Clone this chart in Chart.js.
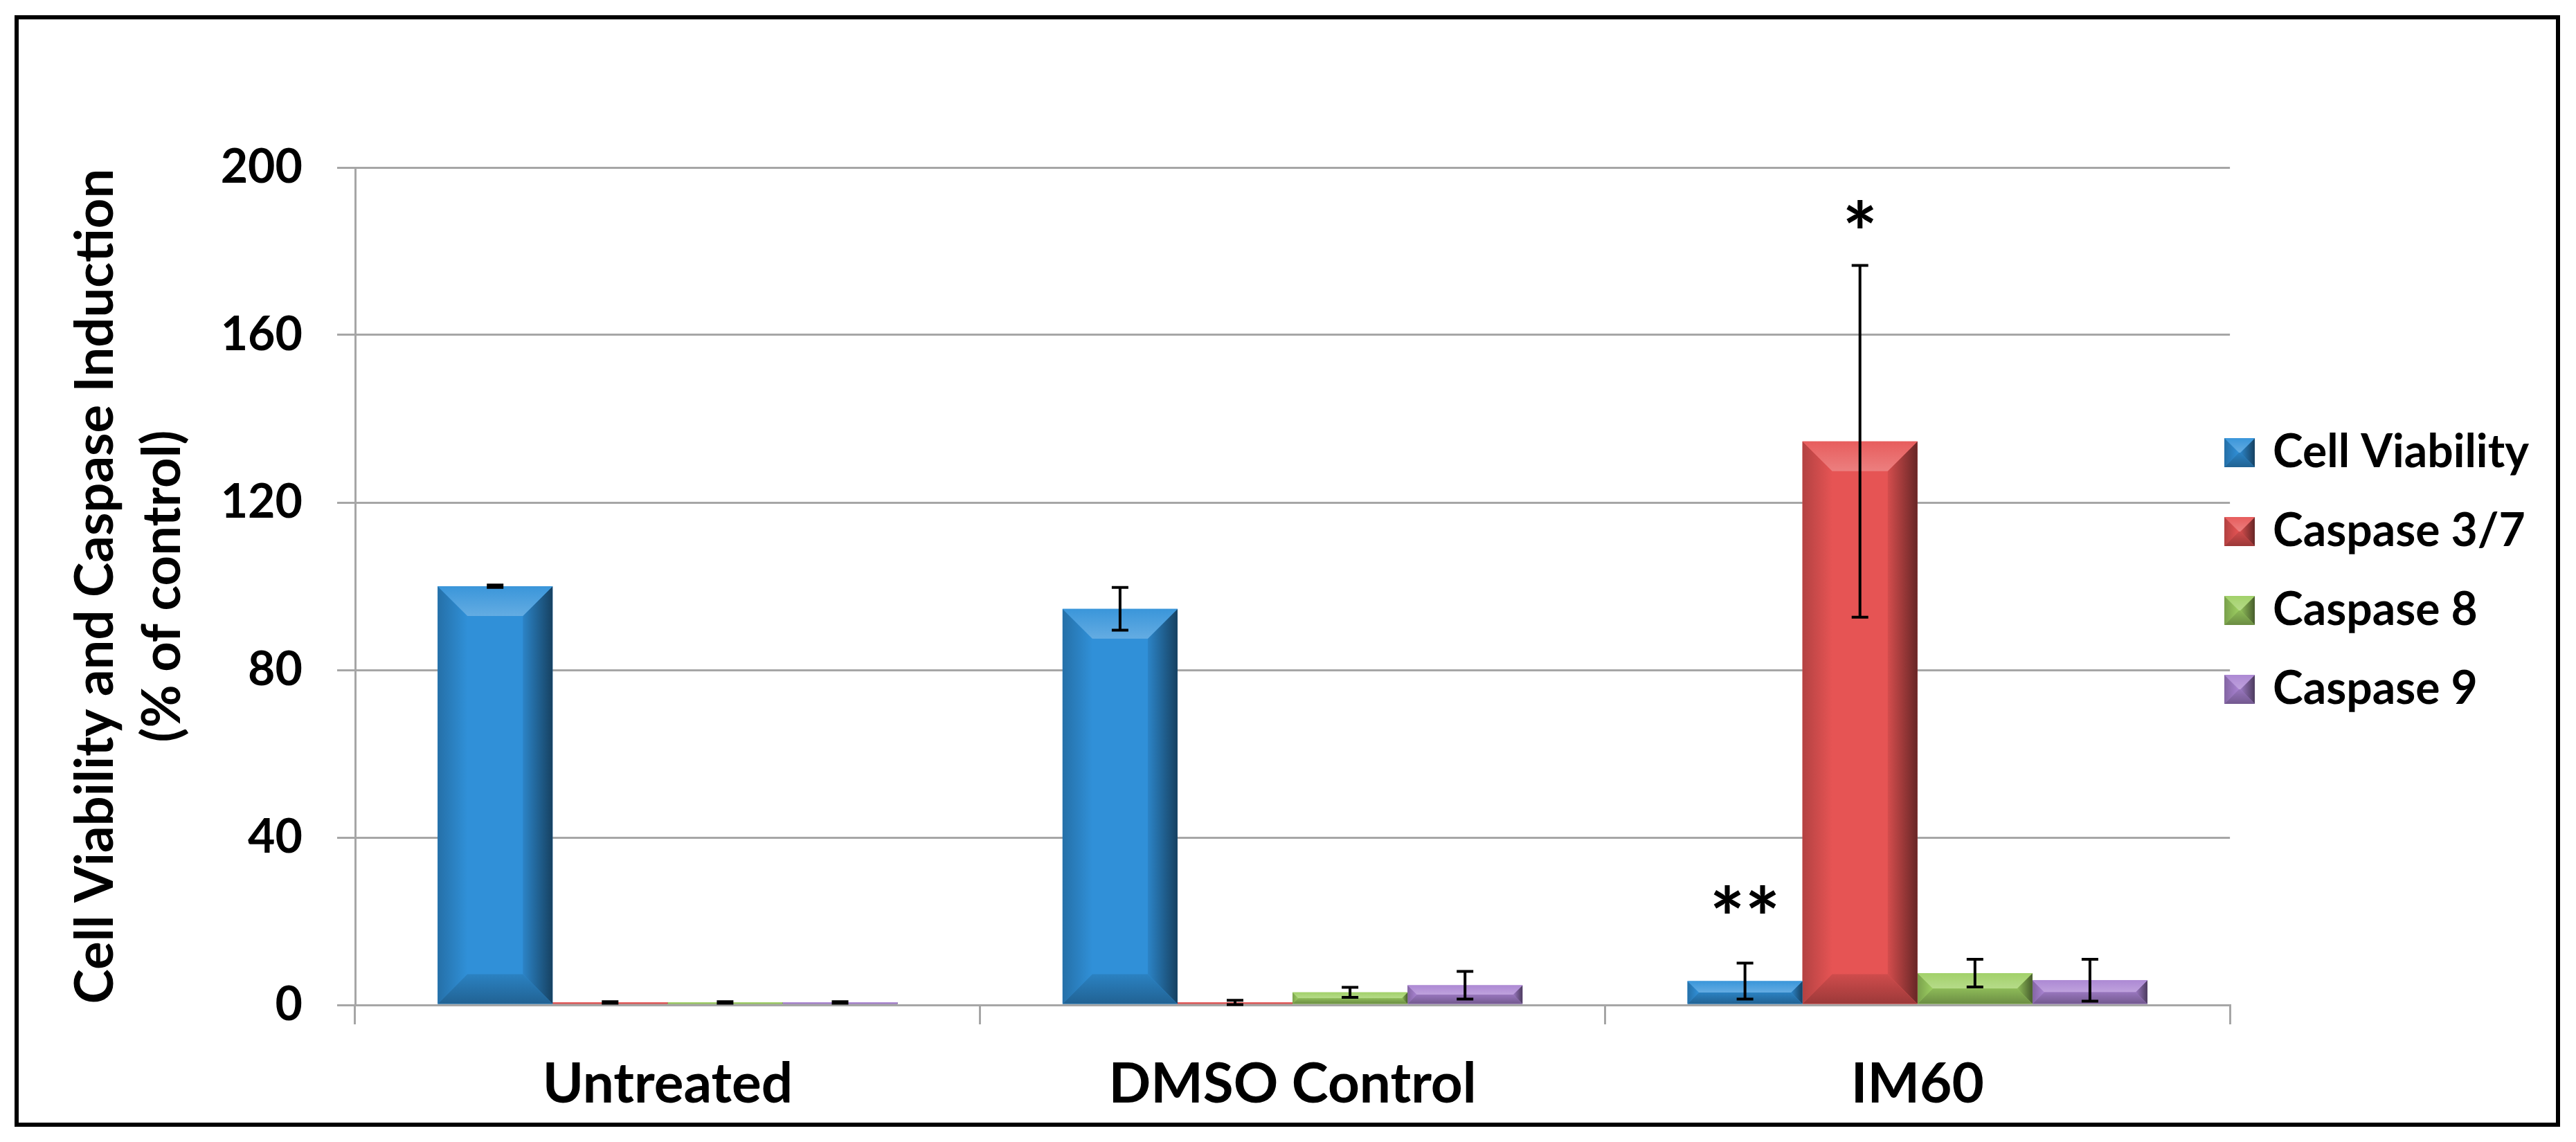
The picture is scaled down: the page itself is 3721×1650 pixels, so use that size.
<!DOCTYPE html>
<html lang="en">
<head>
    <meta charset="UTF-8">
    <title>Cell Viability and Caspase Induction</title>
    <script src="https://cdn.jsdelivr.net/npm/chart.js@4.4.1/dist/chart.umd.min.js"></script>
    <style>
        html, body { margin: 0; padding: 0; background: #fff; }
        #wrap { position: absolute; left: 0; top: 0; width: 3721px; height: 1650px; }
        #frame {
            position: absolute; left: 21px; top: 22px; width: 3677px; height: 1606px;
            border: 6px solid #000; box-sizing: border-box; pointer-events: none;
        }
    </style>
</head>
<body>
    <div id="wrap"><canvas id="grafico"></canvas></div>
    <div id="frame"></div>

    <script>
        // Datos
        const categorias = ['Untreated', 'DMSO Control', 'IM60'];
        const series = ['Cell Viability', 'Caspase 3/7', 'Caspase 8', 'Caspase 9'];

        const cellViability    = [100, 94.6, 5.7];
        const cellViabilityErr = [0.3, 5.1, 4.3];
        const caspase37        = [0.6, 0.6, 134.6];
        const caspase37Err     = [0.2, 0.5, 42];
        const caspase8         = [0.6, 3.0, 7.6];
        const caspase8Err      = [0.2, 1.2, 3.3];
        const caspase9         = [0.6, 4.7, 5.9];
        const caspase9Err      = [0.2, 3.3, 5.0];

        const yMin = 0, yMax = 200, yStep = 40;

        // marcas de significancia: serie, categoria, texto
        const sigSerie = [1, 0];
        const sigCategoria = [2, 2];
        const sigTexto = ['*', '**'];

        // estilos
        const colores = ['#3090D8', '#E65454', '#9DCF62', '#A983D2'];
        const sigLift = [70, 88];
        const valores = [cellViability, caspase37, caspase8, caspase9];
        const errores = [cellViabilityErr, caspase37Err, caspase8Err, caspase9Err];

        function shade(hex, f) {
            const n = parseInt(hex.slice(1), 16);
            let r = (n >> 16) & 255, g = (n >> 8) & 255, b = n & 255;
            const t = f < 0 ? 0 : 255, p = Math.abs(f);
            r = Math.round(r + (t - r) * p);
            g = Math.round(g + (t - g) * p);
            b = Math.round(b + (t - b) * p);
            return `rgb(${r},${g},${b})`;
        }

        function poly(ctx, pts, fill) {
            ctx.beginPath();
            ctx.moveTo(pts[0][0], pts[0][1]);
            for (let i = 1; i < pts.length; i++) ctx.lineTo(pts[i][0], pts[i][1]);
            ctx.closePath();
            ctx.fillStyle = fill;
            ctx.fill();
        }

        // bisel tipo Excel sobre un rectangulo
        function bisel(ctx, L, T, w, h, color, size) {
            if (w <= 0 || h <= 0) return;
            const R = L + w, B = T + h;
            const b = Math.min(size, w / 2, h / 2);
            let g;
            g = ctx.createLinearGradient(L, 0, L + b, 0);
            g.addColorStop(0, shade(color, -0.22));
            g.addColorStop(1, shade(color, 0));
            poly(ctx, [[L, T], [L + b, T + b], [L + b, B - b], [L, B]], g);
            g = ctx.createLinearGradient(R - b, 0, R, 0);
            g.addColorStop(0, shade(color, -0.08));
            g.addColorStop(1, shade(color, -0.55));
            poly(ctx, [[R, T], [R - b, T + b], [R - b, B - b], [R, B]], g);
            g = ctx.createLinearGradient(0, T, 0, T + b);
            g.addColorStop(0, shade(color, 0.05));
            g.addColorStop(1, shade(color, 0.25));
            poly(ctx, [[L, T], [R, T], [R - b, T + b], [L + b, T + b]], g);
            g = ctx.createLinearGradient(0, B - b, 0, B);
            g.addColorStop(0, shade(color, -0.1));
            g.addColorStop(1, shade(color, -0.32));
            poly(ctx, [[L, B], [R, B], [R - b, B - b], [L + b, B - b]], g);
        }

        // muestras de la leyenda
        const muestras = colores.map(c => {
            const cv = document.createElement('canvas');
            cv.width = 44; cv.height = 42;
            const cx = cv.getContext('2d');
            cx.fillStyle = c;
            cx.fillRect(0, 0, 44, 42);
            bisel(cx, 0, 0, 44, 42, c, 22);
            return cv;
        });

        const biselPlugin = {
            id: 'biselBarras',
            afterDatasetDraw(chart, args) {
                const ctx = chart.ctx;
                const color = colores[args.index];
                ctx.save();
                args.meta.data.forEach(bar => {
                    const p = bar.getProps(['x', 'y', 'base', 'width'], true);
                    const top = Math.min(p.y, p.base);
                    bisel(ctx, p.x - p.width / 2, top, p.width, Math.abs(p.base - p.y), color, 43);
                });
                ctx.restore();
            }
        };

        const erroresPlugin = {
            id: 'barrasError',
            afterDatasetsDraw(chart) {
                const ctx = chart.ctx;
                const y = chart.scales.y;
                ctx.save();
                ctx.strokeStyle = '#000';
                ctx.lineWidth = 4;
                errores.forEach((errs, i) => {
                    const meta = chart.getDatasetMeta(i);
                    errs.forEach((e, j) => {
                        const x = meta.data[j].x;
                        const v = valores[i][j];
                        const y1 = y.getPixelForValue(v + e);
                        const y2 = y.getPixelForValue(Math.max(v - e, 0));
                        ctx.beginPath();
                        ctx.moveTo(x, y1); ctx.lineTo(x, y2);
                        ctx.moveTo(x - 12, y1); ctx.lineTo(x + 12, y1);
                        ctx.moveTo(x - 12, y2); ctx.lineTo(x + 12, y2);
                        ctx.stroke();
                    });
                });
                // asteriscos
                ctx.fillStyle = '#000';
                ctx.font = 'bold 120px Lato';
                ctx.textAlign = 'center';
                ctx.textBaseline = 'alphabetic';
                sigTexto.forEach((t, k) => {
                    const i = sigSerie[k], j = sigCategoria[k];
                    const x = chart.getDatasetMeta(i).data[j].x;
                    const top = y.getPixelForValue(valores[i][j] + errores[i][j]);
                    const cy = top - sigLift[k];
                    ctx.fillText(t, x, cy + 67);
                });
                ctx.restore();
            }
        };

        // mueve la leyenda para que quede pegada al area del grafico
        const leyendaPlugin = {
            id: 'posLeyenda',
            afterLayout(chart) {
                const lg = chart.legend;
                const w = lg.width;
                lg.left = chart.chartArea.right - 49;
                lg.right = lg.left + w;
                lg.top = 0;
                lg.bottom = chart.height;
            }
        };

        Chart.defaults.font.family = 'Lato';
        Chart.defaults.font.weight = 'bold';
        Chart.defaults.color = '#000';

        new Chart(document.getElementById('grafico'), {
            type: 'bar',
            data: {
                labels: categorias,
                datasets: series.map((s, i) => ({
                    label: s,
                    data: valores[i],
                    backgroundColor: colores[i],
                    borderWidth: 0,
                    barPercentage: 1,
                    categoryPercentage: 0.736
                }))
            },
            options: {
                responsive: true,
                maintainAspectRatio: false,
                devicePixelRatio: 1,
                animation: false,
                layout: { padding: { top: 242, right: 9, bottom: 0, left: 0 } },
                plugins: {
                    tooltip: { enabled: false },
                    legend: {
                        position: 'right',
                        labels: {
                            font: { size: 66, weight: 'bold' },
                            color: '#000',
                            padding: 48,
                            usePointStyle: true,
                            pointStyleWidth: 30,
                            generateLabels: chart => series.map((s, i) => ({
                                text: s,
                                pointStyle: muestras[i],
                                fillStyle: colores[i],
                                strokeStyle: 'rgba(0,0,0,0)',
                                lineWidth: 0,
                                hidden: false,
                                datasetIndex: i
                            }))
                        }
                    }
                },
                scales: {
                    x: {
                        afterFit: s => { s.height = 198; },
                        grid: {
                            offset: true,
                            drawOnChartArea: false,
                            drawTicks: true,
                            tickLength: 28,
                            color: '#A6A6A6',
                            lineWidth: 3
                        },
                        border: { display: true, color: '#A6A6A6', width: 3 },
                        ticks: { font: { size: 80, weight: 'bold' }, color: '#000', padding: 39 }
                    },
                    y: {
                        min: yMin,
                        max: yMax,
                        afterFit: s => { s.width = 513; },
                        grid: { color: '#A6A6A6', lineWidth: 3, tickLength: 26 },
                        border: { display: true, color: '#A6A6A6', width: 3 },
                        ticks: {
                            stepSize: yStep,
                            font: { size: 68, weight: 'bold' },
                            color: '#000',
                            padding: 50
                        },
                        title: {
                            display: true,
                            text: ['Cell Viability and Caspase Induction', '(% of control)'],
                            font: { size: 76, weight: 'bold', lineHeight: 1.28 },
                            color: '#000',
                            padding: { top: 90, bottom: 0 }
                        }
                    }
                }
            },
            plugins: [biselPlugin, erroresPlugin, leyendaPlugin]
        });
    </script>
</body>
</html>
